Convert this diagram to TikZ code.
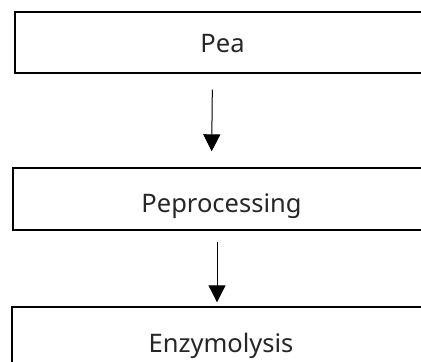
\documentclass[tikz,border=0pt]{standalone}
\usepackage{fontspec}
\setmainfont{Noto Sans}
\usetikzlibrary{arrows.meta}
\begin{document}
\begin{tikzpicture}[x=1pt,y=-1pt,
  stagebox/.style={draw=black, line width=1.4pt, rectangle, inner sep=0pt,
    font=\fontsize{25.5}{30}\selectfont, text=black!85, text depth=0pt},
  flowarrow/.style={draw=black, line width=1pt, -{Triangle[width=17pt,length=17pt]}}]
\useasboundingbox (0,0) rectangle (421,362);
\node[stagebox, minimum width=415pt, minimum height=61pt, text height=19.5pt] (pea) at (222.5,42.5) {Pea};
\node[stagebox, minimum width=417pt, minimum height=62pt, text height=27pt] (pre) at (221.5,199) {Peprocessing};
\node[stagebox, minimum width=418pt, minimum height=66pt, text height=24pt] (enz) at (221,340) {Enzymolysis};
\draw[flowarrow, shorten <=16pt, shorten >=16pt] ([xshift=-10pt]pea.south) -- ([xshift=-10pt]pre.north);
\draw[flowarrow, shorten <=11pt, shorten >=4pt] ([xshift=-4.5pt]pre.south) -- ([xshift=-4pt]enz.north);
\end{tikzpicture}
\end{document}
